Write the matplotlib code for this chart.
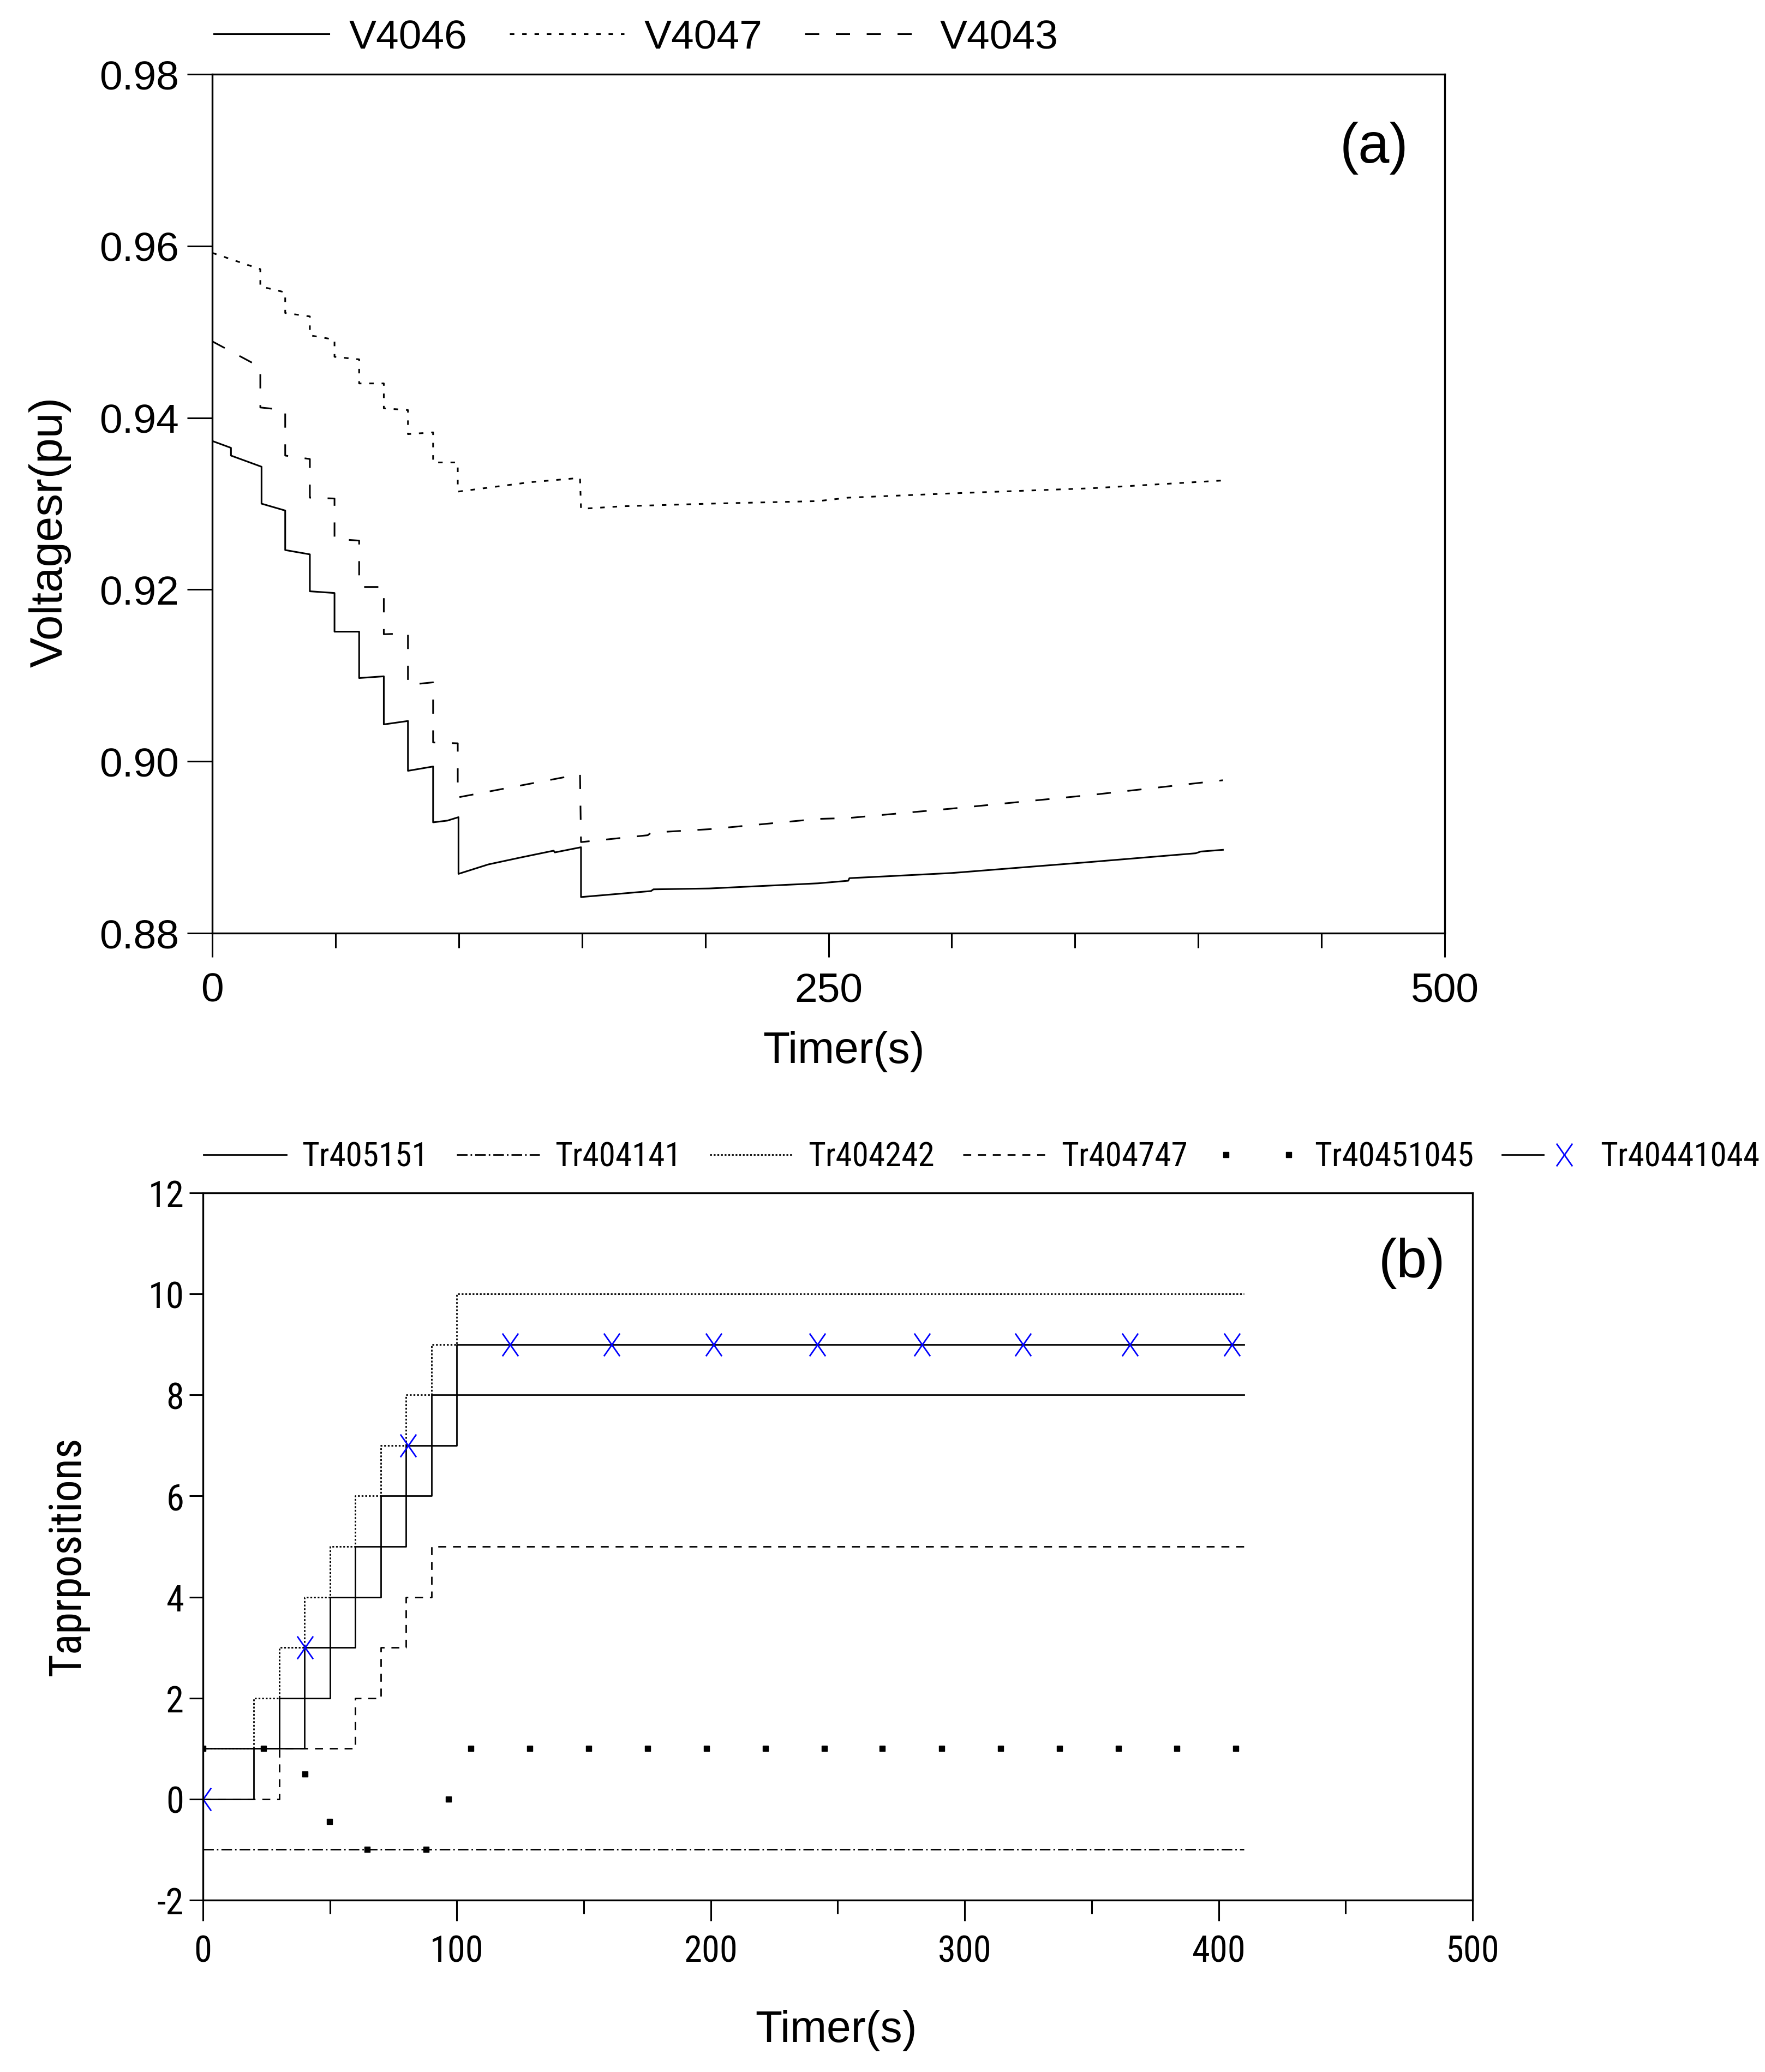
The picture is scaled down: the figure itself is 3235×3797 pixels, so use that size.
import numpy as np
import matplotlib
matplotlib.use("Agg")
import matplotlib.pyplot as plt
from matplotlib import font_manager
from matplotlib.font_manager import FontProperties
from matplotlib.path import Path
from matplotlib.legend_handler import HandlerLine2D, HandlerTuple
from matplotlib.ticker import MultipleLocator, FormatStrFormatter

# ---- (a) Spannungen ----
t_v4046 = [0, 7.6, 7.6, 20, 20, 29.6, 29.6, 39.6, 39.6, 49.6, 49.6, 59.6, 59.6,
           69.6, 69.6, 79.4, 79.4, 89.6, 89.6, 95.4, 99.9, 99.9, 112, 125, 138.5,
           139, 149.6, 149.6, 178, 179, 201.6, 245.8, 258, 258.5, 300, 357, 399, 401, 410]
v_v4046 = [0.9373, 0.9365, 0.9356, 0.9343, 0.9300, 0.9292, 0.9246, 0.9241, 0.9198,
           0.9196, 0.9151, 0.9151, 0.9097, 0.9099, 0.9043, 0.9047, 0.8989, 0.8994,
           0.8929, 0.8931, 0.8935, 0.8869, 0.8880, 0.8888, 0.8896, 0.8894, 0.8900,
           0.8842, 0.8849, 0.8851, 0.8852, 0.8858, 0.8861, 0.8864, 0.8870, 0.8883,
           0.8893, 0.8895, 0.8897]

t_v4047 = [0, 19.5, 19.5, 29.6, 29.6, 39.6, 39.6, 49.6, 49.6, 59.6, 59.6, 69.6, 69.6,
           79.4, 79.4, 89.6, 89.6, 99.6, 99.6, 129, 149.2, 149.6, 166.5, 201.6, 245.8,
           258, 300, 357, 410]
v_v4047 = [0.9592, 0.9573, 0.9553, 0.9546, 0.9522, 0.9518, 0.9496, 0.9491, 0.9471,
           0.9468, 0.9440, 0.9440, 0.9411, 0.9409, 0.9381, 0.9383, 0.9348, 0.9348,
           0.9314, 0.9325, 0.9330, 0.9294, 0.9297, 0.9300, 0.9303, 0.9307, 0.9312,
           0.9318, 0.9327]

t_v4043 = [0, 19.5, 19.5, 29.6, 29.6, 39.6, 39.6, 49.6, 49.6, 59.6, 59.6, 69.6, 69.6,
           79.4, 79.4, 89.6, 89.6, 99.6, 99.6, 149.2, 149.6, 176.7, 178, 201.6, 245.8,
           258, 300, 357, 410]
v_v4043 = [0.9489, 0.9459, 0.9412, 0.9409, 0.9356, 0.9352, 0.9307, 0.9306, 0.9259,
           0.9257, 0.9203, 0.9203, 0.9148, 0.9149, 0.9089, 0.9092, 0.9022, 0.9021,
           0.8958, 0.8985, 0.8906, 0.8914, 0.8917, 0.8921, 0.8933, 0.8934, 0.8945,
           0.8961, 0.8978]

# ---- (b) Stufenstellungen ----
t_405151 = [0, 40, 50, 60, 70, 80, 90, 100, 410]
v_405151 = [1, 2, 3, 4, 5, 6, 7, 8, 8]
t_404141 = [0, 410]
v_404141 = [-1, -1]
t_404242 = [0, 20, 30, 40, 50, 60, 70, 80, 90, 100, 410]
v_404242 = [1, 2, 3, 4, 5, 6, 7, 8, 9, 10, 10]
t_404747 = [0, 30, 60, 70, 80, 90, 410]
v_404747 = [0, 1, 2, 3, 4, 5, 5]
t_40451045 = [0, 23.9, 40.1, 49.9, 64.7, 87.9, 96.6, 105.5, 128.7, 151.9, 175.1,
              198.3, 221.5, 244.7, 267.5, 291.0, 314.2, 337.4, 360.6, 383.6, 406.8]
v_40451045 = [1, 1, 0.49, -0.44, -1, -1, 0, 1, 1, 1, 1, 1, 1, 1, 1, 1, 1, 1, 1, 1, 1]
t_40441044 = [0, 20, 30, 40, 50, 60, 70, 80, 90, 100, 410]
v_40441044 = [0, 1, 2, 3, 4, 5, 6, 7, 8, 9, 9]
t_40441044_mk = [0, 40.1, 80.7, 121.0, 161.0, 201.1, 241.9, 283.1, 323.0, 365.1, 405.2]
v_40441044_mk = [0, 3, 7, 9, 9, 9, 9, 9, 9, 9, 9]


def pick_narrow():
    # schmale Schrift suchen (Narrow / Condensed), sonst None
    cond_names = ("condensed", "semi-condensed", "extra-condensed", "ultra-condensed")
    found = []
    for f in font_manager.fontManager.ttflist:
        st = f.stretch
        low = f.fname.lower()
        is_cond = (st in cond_names) if isinstance(st, str) else st < 500
        if "narrow" in low or ("condensed" in low and "extra" not in low and "semi" not in low):
            is_cond = True
        if not is_cond or f.style != "normal":
            continue
        if f.weight not in (400, "normal", "regular", "book"):
            continue
        if "bold" in low or "italic" in low or "light" in low or "medium" in low:
            continue
        found.append(f)
    order = ["Liberation Sans Narrow", "Arial Narrow", "Roboto Condensed",
             "Noto Sans", "Open Sans", "DejaVu Sans", "Roboto", "Lato", "Inter"]
    for name in order:
        for f in found:
            if f.name == name:
                return f.fname
    return found[0].fname if found else None


REG = "Liberation Sans"
narrow_file = pick_narrow()
if narrow_file:
    def nfp(size):
        return FontProperties(fname=narrow_file, size=size)
    tick_size, leg_size, ylab_size = 48, 44, 58
    leg_hl, leg_pad, leg_col = 2.49, 0.46, 0.85
else:
    def nfp(size):
        return FontProperties(family=REG, size=size)
    tick_size, leg_size, ylab_size = 44, 40, 51
    leg_hl, leg_pad, leg_col = 2.73, 0.5, 0.67

plt.rcParams["font.family"] = [REG, "DejaVu Sans"]
plt.rcParams["axes.unicode_minus"] = False

fig = plt.figure(figsize=(32.35, 37.98), dpi=100)

# ================= (a) =================
ax1 = fig.add_axes([0.12025, 0.54950, 0.6983, 0.41443])
lw = 2.2
l1, = ax1.plot(t_v4046, v_v4046, color="k", lw=lw, label="V4046")
l2, = ax1.plot(t_v4047, v_v4047, color="k", lw=lw, linestyle=(0, (2.7, 4.7)), label="V4047")
l3, = ax1.plot(t_v4043, v_v4043, color="k", lw=lw, linestyle=(0, (8.5, 10)), label="V4043")
ax1.set_xlim(0, 500)
ax1.set_ylim(0.88, 0.98)
ax1.set_xticks([0, 250, 500])
ax1.xaxis.set_minor_locator(MultipleLocator(50))
ax1.set_yticks([0.88, 0.90, 0.92, 0.94, 0.96, 0.98])
ax1.yaxis.set_major_formatter(FormatStrFormatter("%.2f"))
ax1.tick_params(axis="y", which="major", length=33, width=2.2, labelsize=54, pad=11)
ax1.tick_params(axis="x", which="major", length=32, width=2.2, labelsize=54, pad=19)
ax1.tick_params(axis="x", which="minor", length=19.5, width=2.2)
for s in ax1.spines.values():
    s.set_linewidth(2.4)
ax1.set_xlabel("Timer(s)", fontsize=58)
ax1.xaxis.set_label_coords(0.5126, -0.1372)
ax1.xaxis.label.set_va("center")
ax1.set_ylabel("Voltagesr(pu)", fontsize=60)
ax1.yaxis.set_label_coords(-0.1315, 0.4676)
ax1.yaxis.label.set_va("center")
fig.text(0.7784, 0.9284, "(a)", fontsize=74, ha="center", va="center")

fig.legend([l1, l2, l3], ["V4046", "V4047", "V4043"], loc="center left",
           bbox_to_anchor=(0.1212, 0.98157), ncol=3, frameon=False,
           prop={"family": REG, "size": 54}, handlelength=2.81,
           handletextpad=0.49, columnspacing=1.03, borderpad=0, borderaxespad=0)

# ================= (b) =================
ax2 = fig.add_axes([0.11499, 0.08294, 0.71932, 0.34123])
lw2 = 2.0
b1, = ax2.step(t_405151, v_405151, where="post", color="k", lw=lw2)
b2, = ax2.step(t_404141, v_404141, where="post", color="k", lw=lw2,
               linestyle=(0, (7, 2, 1, 2)))
b3, = ax2.step(t_404242, v_404242, where="post", color="k", lw=lw2,
               linestyle=(0, (1.2, 1.2)))
b4, = ax2.step(t_404747, v_404747, where="post", color="k", lw=lw2,
               linestyle=(0, (5.25, 4.5)))
b5, = ax2.plot(t_40451045, v_40451045, linestyle="none", marker="s",
               markersize=7, color="k")
b6, = ax2.step(t_40441044, v_40441044, where="post", color="k", lw=lw2)
xmark = Path([(-0.35, -0.5), (0.35, 0.5), (-0.35, 0.5), (0.35, -0.5)],
             [Path.MOVETO, Path.LINETO, Path.MOVETO, Path.LINETO])
b6m, = ax2.plot(t_40441044_mk, v_40441044_mk, linestyle="none", marker=xmark,
                markersize=30, markerfacecolor="none", markeredgecolor="blue",
                markeredgewidth=2.0)
ax2.set_xlim(0, 500)
ax2.set_ylim(-2, 12)
ax2.set_xticks([0, 100, 200, 300, 400, 500])
ax2.xaxis.set_minor_locator(MultipleLocator(50))
ax2.set_yticks([-2, 0, 2, 4, 6, 8, 10, 12])
ax2.tick_params(axis="y", which="major", length=18, width=2.2, pad=7)
ax2.tick_params(axis="x", which="major", length=27, width=2.2, pad=18)
ax2.tick_params(axis="x", which="minor", length=18, width=2.2)
for lab in ax2.get_xticklabels() + ax2.get_yticklabels():
    lab.set_fontproperties(nfp(tick_size))
for s in ax2.spines.values():
    s.set_linewidth(2.4)
ax2.set_xlabel("Timer(s)", fontsize=58)
ax2.xaxis.set_label_coords(0.4985, -0.1836)
ax2.xaxis.label.set_va("center")
ax2.set_ylabel("Taprpositions", fontproperties=nfp(ylab_size))
ax2.yaxis.set_label_coords(-0.1061, 0.487)
ax2.yaxis.label.set_va("center")
fig.text(0.80, 0.3905, "(b)", fontsize=72, ha="center", va="center")

fig.legend([b1, b2, b3, b4, b5, (b6, b6m)],
           ["Tr405151", "Tr404141", "Tr404242", "Tr404747", "Tr40451045", "Tr40441044"],
           loc="center left", bbox_to_anchor=(0.1153, 0.44155), ncol=6, frameon=False,
           prop=nfp(leg_size), handlelength=leg_hl,
           handletextpad=leg_pad, columnspacing=leg_col, borderpad=0, borderaxespad=0,
           handler_map={b5: HandlerLine2D(numpoints=2), tuple: HandlerTuple(ndivide=None)})

fig.savefig("out.png", dpi=100)
